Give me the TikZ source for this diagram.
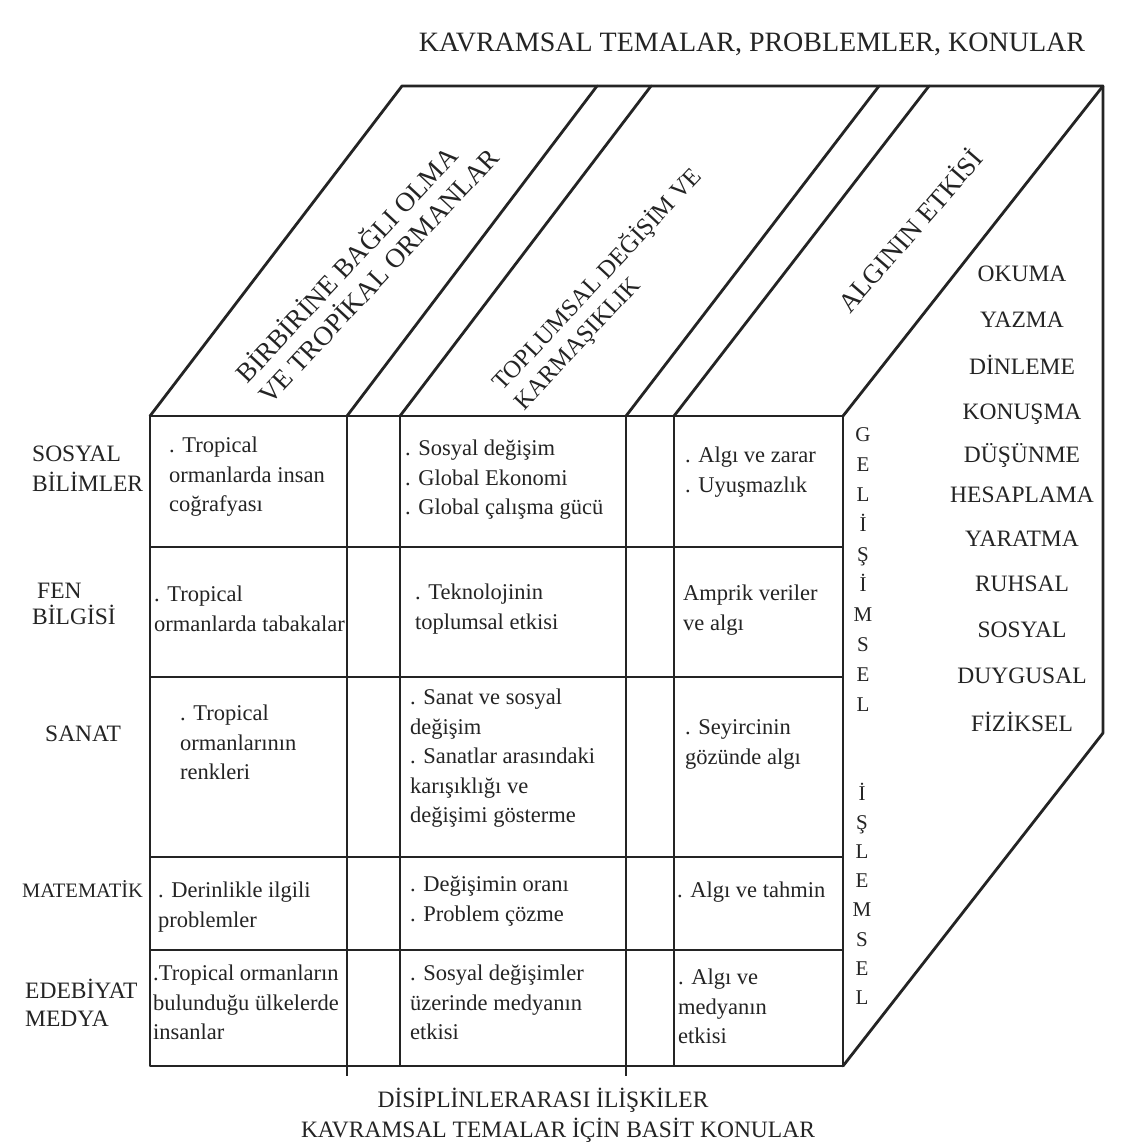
\documentclass[tikz,border=0pt]{standalone}
\usepackage{fontspec}
\setmainfont{Liberation Serif}
\definecolor{ink}{HTML}{242424}
\newcommand\cellput[4]{%
  \foreach \celline [count=\i] in {#4} {%
    \node[celltext] (#1-\i) at (#2,{#3+7.5+(\i-1)*29.5}) {\celline};}}
\begin{document}
\begin{tikzpicture}[x=1pt,y=-1pt,
  edge/.style={draw=ink,line width=2.8pt,line join=round,line cap=round},
  gridline/.style={draw=ink,line width=2pt},
  celltext/.style={font=\fontsize{22.5}{29.5}\selectfont,text=ink,inner sep=0pt,anchor=base west},
  rowlab/.style={font=\fontsize{23.5}{30}\selectfont,text=ink,inner sep=0pt,anchor=base west},
  sidelab/.style={font=\fontsize{23.5}{30}\selectfont,text=ink,inner sep=0pt,anchor=base},
  vlet/.style={font=\fontsize{21}{24}\selectfont,text=ink,inner sep=0pt,anchor=base},
  toplab/.style={text=ink,inner sep=0pt,align=left},
  caption/.style={font=\fontsize{23.5}{30}\selectfont,text=ink,inner sep=0pt,anchor=base}]
\useasboundingbox (0,0) rectangle (1126,1148);
\fill[white] (0,0) rectangle (1126,1148);
% corners
\coordinate (FTL) at (150,416);
\coordinate (FTR) at (843,416);
\coordinate (FBL) at (150,1066);
\coordinate (FBR) at (843,1066);
\coordinate (BTL) at (402,86);
\coordinate (BTR) at (1103,86);
\coordinate (BBR) at (1103,733);
% column dividers
\coordinate (c1t) at (347,416); \coordinate (c1b) at (347,1076);
\coordinate (c2t) at (400,416); \coordinate (c2b) at (400,1066);
\coordinate (c3t) at (626,416); \coordinate (c3b) at (626,1076);
\coordinate (c4t) at (674,416); \coordinate (c4b) at (674,1066);
\coordinate (d1) at (597,86);
\coordinate (d2) at (651,86);
\coordinate (d3) at (879,86);
\coordinate (d4) at (929,86);
% row dividers
\foreach \y [count=\k] in {547,677,857,950} {
  \coordinate (r\k l) at (150,\y);
  \coordinate (r\k r) at (843,\y);
}
% grid
\foreach \k in {1,...,4} {\draw[gridline] (r\k l) -- (r\k r);}
\draw[gridline] (c1t) -- (c1b);
\draw[gridline] (c2t) -- (c2b);
\draw[gridline] (c3t) -- (c3b);
\draw[gridline] (c4t) -- (c4b);
% box
\draw[edge] (FTL) -- (FBL) -- (FBR) -- (FTR) -- cycle;
\draw[edge] (FTL) -- (BTL) -- (BTR) -- (BBR) -- (FBR);
\draw[edge] (FTR) -- (BTR);
\draw[edge] (c1t) -- (d1);
\draw[edge] (c2t) -- (d2);
\draw[edge] (c3t) -- (d3);
\draw[edge] (c4t) -- (d4);
% title and captions
\node[caption,font=\fontsize{28}{30}\selectfont] (title) at (752,52) {KAVRAMSAL TEMALAR, PROBLEMLER, KONULAR};
\node[caption] (cap1) at (543,1107) {DİSİPLİNLERARASI İLİŞKİLER};
\node[caption] (cap2) at (558,1137) {KAVRAMSAL TEMALAR İÇİN BASİT KONULAR};
% top labels
\node[toplab,font=\fontsize{27}{31}\selectfont,rotate=47] (lab1) at (366,264) {BİRBİRİNE BAĞLI OLMA\\VE TROPİKAL ORMANLAR};
\node[toplab,font=\fontsize{24.5}{29}\selectfont,rotate=47] (lab2) at (608,289) {TOPLUMSAL DEĞİŞİM VE\\KARMAŞIKLIK};
\node[toplab,font=\fontsize{27}{31}\selectfont,rotate=49] (lab3) at (909,230) {ALGININ ETKİSİ};
% row labels
\node[rowlab] (sos1) at (32,461) {SOSYAL};
\node[rowlab] (sos2) at (32,491) {BİLİMLER};
\node[rowlab] (fen1) at (37,598) {FEN};
\node[rowlab] (fen2) at (32,624) {BİLGİSİ};
\node[rowlab] (san) at (45,741) {SANAT};
\node[rowlab,font=\fontsize{20.5}{24}\selectfont] (mat) at (22,897) {MATEMATİK};
\node[rowlab] (ede1) at (25,998) {EDEBİYAT};
\node[rowlab] (ede2) at (25,1026) {MEDYA};
% cells
\cellput{a1}{169}{445}{. Tropical,ormanlarda insan,coğrafyası}
\cellput{c1}{405}{448}{. Sosyal değişim,. Global Ekonomi,. Global çalışma gücü}
\cellput{e1}{685}{455}{. Algı ve zarar,. Uyuşmazlık}
\cellput{a2}{154}{594}{. Tropical,ormanlarda tabakalar}
\cellput{c2}{415}{592}{. Teknolojinin,toplumsal etkisi}
\cellput{e2}{683}{593}{Amprik veriler,ve algı}
\cellput{a3}{180}{713}{. Tropical,ormanlarının,renkleri}
\cellput{c3}{410}{697}{. Sanat ve sosyal,değişim,. Sanatlar arasındaki,karışıklığı ve,değişimi gösterme}
\cellput{e3}{685}{727}{. Seyircinin,gözünde algı}
\cellput{a4}{158}{890}{. Derinlikle ilgili,problemler}
\cellput{c4}{410}{884}{. Değişimin oranı,. Problem çözme}
\cellput{e4}{677}{890}{. Algı ve tahmin}
\cellput{a5}{153}{973}{.Tropical ormanların,bulunduğu ülkelerde,insanlar}
\cellput{c5}{410}{973}{. Sosyal değişimler,üzerinde medyanın,etkisi}
\cellput{e5}{678}{977}{. Algı ve,medyanın,etkisi}
% vertical letters
\foreach \L [count=\i] in {G,E,L,İ,Ş,İ,M,S,E,L} {
  \node[vlet] (g\i) at (863,{434+7+(\i-1)*30}) {\L};}
\foreach \L [count=\i] in {İ,Ş,L,E,M,S,E,L} {
  \node[vlet] (p\i) at (862,{793+7+(\i-1)*29.2}) {\L};}
% side list
\foreach \w/\yy [count=\i] in {OKUMA/274,YAZMA/320,DİNLEME/367,KONUŞMA/412,DÜŞÜNME/455,HESAPLAMA/495,YARATMA/539,RUHSAL/584,SOSYAL/630,DUYGUSAL/676,FİZİKSEL/724} {
  \node[sidelab] (s\i) at (1022,{\yy+7.8}) {\w};}
\end{tikzpicture}
\end{document}
